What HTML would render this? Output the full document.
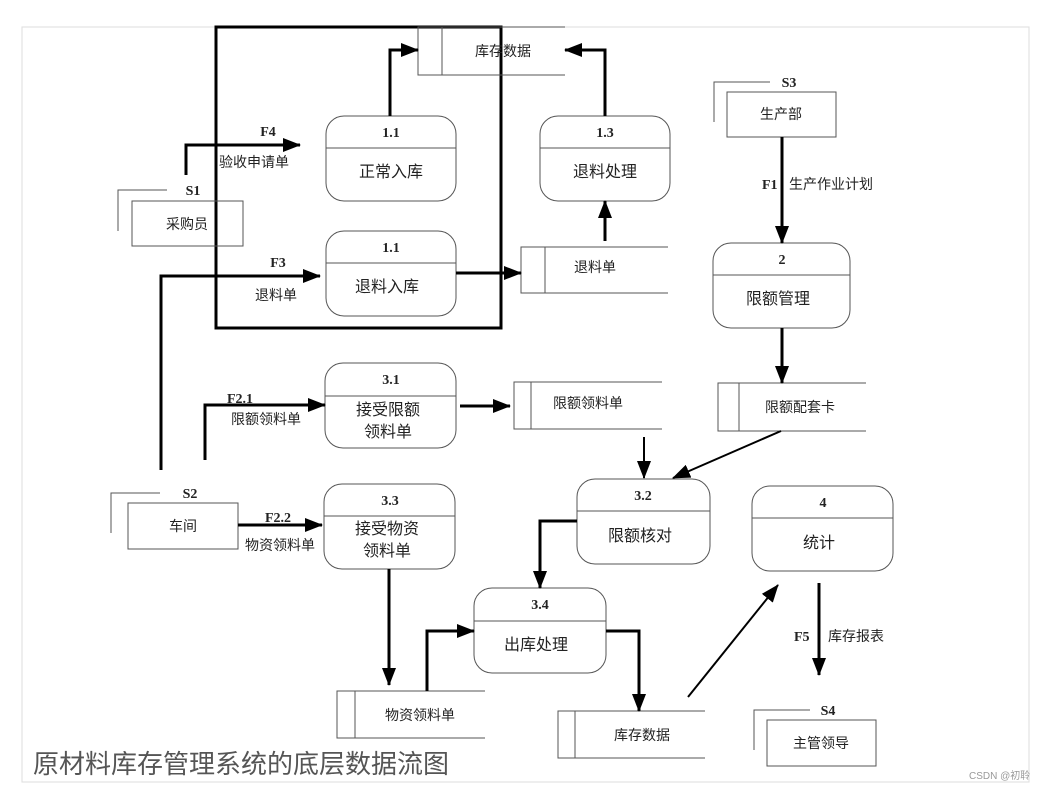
<!DOCTYPE html>
<html><head><meta charset="utf-8"><style>
html,body{margin:0;padding:0;background:#fff;}
svg{display:block;}
text{font-family:"Liberation Sans","Noto Sans CJK SC",sans-serif;fill:#222;}
.b{font-family:"Liberation Serif",serif;font-weight:bold;font-size:14px;}
.t{font-size:14px;}
.m{font-size:16px;}
</style></head><body>
<svg width="1052" height="791" viewBox="0 0 1052 791" xmlns="http://www.w3.org/2000/svg">
<defs>
<marker id="A" markerWidth="18" markerHeight="14" refX="17" refY="7" orient="auto" markerUnits="userSpaceOnUse">
<path d="M0,0 L18,7 L0,14 z" fill="#000"/></marker>
</defs>
<rect x="22" y="27" width="1007" height="755" fill="none" stroke="#ddd" stroke-width="1"/>
<rect x="216" y="27" width="285" height="301" fill="none" stroke="#000" stroke-width="3"/>

<g fill="none" stroke="#555" stroke-width="1">
<rect x="326" y="116" width="130" height="85" rx="18"/><line x1="326" y1="148" x2="456" y2="148"/>
<rect x="540" y="116" width="130" height="85" rx="18"/><line x1="540" y1="148" x2="670" y2="148"/>
<rect x="326" y="231" width="130" height="85" rx="18"/><line x1="326" y1="263" x2="456" y2="263"/>
<rect x="713" y="243" width="137" height="85" rx="18"/><line x1="713" y1="275" x2="850" y2="275"/>
<rect x="325" y="363" width="131" height="85" rx="18"/><line x1="325" y1="396" x2="456" y2="396"/>
<rect x="324" y="484" width="131" height="85" rx="18"/><line x1="324" y1="516" x2="455" y2="516"/>
<rect x="577" y="479" width="133" height="85" rx="18"/><line x1="577" y1="511" x2="710" y2="511"/>
<rect x="752" y="486" width="141" height="85" rx="18"/><line x1="752" y1="518" x2="893" y2="518"/>
<rect x="474" y="588" width="132" height="85" rx="18"/><line x1="474" y1="621" x2="606" y2="621"/>
<path d="M565,27 H418 V75 H565 M442,27 V75"/>
<path d="M668,247 H521 V293 H668 M545,247 V293"/>
<path d="M662,382 H514 V429 H662 M531,382 V429"/>
<path d="M866,383 H718 V431 H866 M739,383 V431"/>
<path d="M485,691 H337 V738 H485 M355,691 V738"/>
<path d="M705,711 H558 V758 H705 M575,711 V758"/>
<rect x="132" y="201" width="111" height="45"/><path d="M118,231 V190 H167"/>
<rect x="128" y="503" width="110" height="46"/><path d="M111,533 V493 H160"/>
<rect x="727" y="92" width="109" height="45"/><path d="M714,122 V82 H770"/>
<rect x="767" y="720" width="109" height="46"/><path d="M754,750 V710 H810"/>
</g>

<g fill="none" stroke="#000" stroke-width="3">
<path d="M186,175 V145 H300" marker-end="url(#A)"/>
<path d="M390,116 V50 H418" marker-end="url(#A)"/>
<path d="M605,116 V50 H565" marker-end="url(#A)"/>
<path d="M605,241 V201" marker-end="url(#A)"/>
<path d="M161,470 V276 H320" marker-end="url(#A)"/>
<path d="M456,273 H521" marker-end="url(#A)"/>
<path d="M782,137 V243" marker-end="url(#A)"/>
<path d="M782,328 V383" marker-end="url(#A)"/>
<path d="M205,460 V405 H325" marker-end="url(#A)"/>
<path d="M460,406 H510" marker-end="url(#A)"/>
<path d="M238,525 H322" marker-end="url(#A)"/>
<path d="M389,569 V685" marker-end="url(#A)"/>
<path d="M427,691 V631 H474" marker-end="url(#A)"/>
<path d="M577,521 H540 V588" marker-end="url(#A)"/>
<path d="M606,631 H639 V711" marker-end="url(#A)"/>
<path d="M819,583 V675" marker-end="url(#A)"/>
</g>
<g fill="none" stroke="#000" stroke-width="2">
<path d="M644,437 V478" marker-end="url(#A)"/>
<path d="M781,431 L673,478" marker-end="url(#A)"/>
<path d="M688,697 L778,585" marker-end="url(#A)"/>
</g>

<g text-anchor="middle">
<text class="b" x="391" y="137">1.1</text><text class="m" x="391" y="177">正常入库</text>
<text class="b" x="605" y="137">1.3</text><text class="m" x="605" y="177">退料处理</text>
<text class="b" x="391" y="252">1.1</text><text class="m" x="387" y="292">退料入库</text>
<text class="b" x="782" y="264">2</text><text class="m" x="778" y="304">限额管理</text>
<text class="b" x="391" y="384">3.1</text><text class="m" x="388" y="415">接受限额</text><text class="m" x="388" y="437">领料单</text>
<text class="b" x="390" y="505">3.3</text><text class="m" x="387" y="534">接受物资</text><text class="m" x="387" y="556">领料单</text>
<text class="b" x="643" y="500">3.2</text><text class="m" x="640" y="541">限额核对</text>
<text class="b" x="823" y="507">4</text><text class="m" x="819" y="548">统计</text>
<text class="b" x="540" y="609">3.4</text><text class="m" x="536" y="650">出库处理</text>
<text class="t" x="503" y="56">库存数据</text>
<text class="t" x="595" y="272">退料单</text>
<text class="t" x="588" y="408">限额领料单</text>
<text class="t" x="800" y="412">限额配套卡</text>
<text class="t" x="420" y="720">物资领料单</text>
<text class="t" x="642" y="740">库存数据</text>
<text class="t" x="187" y="229">采购员</text>
<text class="t" x="183" y="531">车间</text>
<text class="t" x="781" y="119">生产部</text>
<text class="t" x="821" y="748">主管领导</text>
<text class="b" x="193" y="195">S1</text>
<text class="b" x="190" y="498">S2</text>
<text class="b" x="789" y="87">S3</text>
<text class="b" x="828" y="715">S4</text>
<text class="b" x="268" y="136">F4</text>
<text class="t" x="254" y="167">验收申请单</text>
<text class="b" x="278" y="267">F3</text>
<text class="t" x="276" y="300">退料单</text>
<text class="b" x="240" y="403">F2.1</text>
<text class="t" x="266" y="424">限额领料单</text>
<text class="b" x="278" y="522">F2.2</text>
<text class="t" x="280" y="550">物资领料单</text>
</g>
<text class="b" x="762" y="189">F1</text>
<text class="t" x="789" y="189">生产作业计划</text>
<text class="b" x="794" y="641">F5</text>
<text class="t" x="828" y="641">库存报表</text>
<text x="33" y="773" style="font-size:26px;fill:#555;">原材料库存管理系统的底层数据流图</text>
<text x="969" y="779" style="font-size:10px;fill:#999;">CSDN @初聆</text>
</svg>
</body></html>
